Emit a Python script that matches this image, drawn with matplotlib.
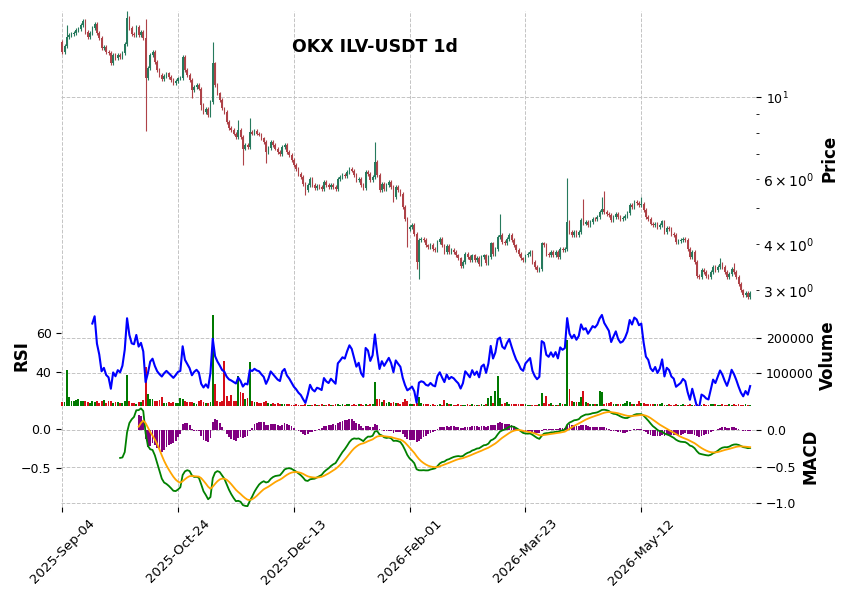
# OKX ILV-USDT 1d - candles, volume + RSI, MACD (estilo charles)

import numpy as np
import pandas as pd
import matplotlib
matplotlib.use('Agg')
import matplotlib.pyplot as plt
from matplotlib.ticker import MultipleLocator

start_date = '2025-09-04'
first_open = 14.12

close = [
    13.27, 13.77, 14.57, 14.72, 14.78, 14.87, 15.19, 15.29, 15.67, 16.07, 15.03, 14.57, 14.87, 15.35, 15.74, 14.87, 14.42, 13.55, 13.69, 13.27,
    13.13, 12.33, 12.99, 12.73, 12.99, 12.86, 13.13, 13.89, 16.33, 15.35, 14.78, 14.72, 15.51, 14.72, 15.03, 14.42, 11.23, 11.96, 12.99, 13.27,
    12.46, 11.83, 11.47, 11.18, 11.42, 11.59, 11.35, 11.11, 10.89, 11.05, 11.23, 11.28, 12.86, 11.83, 11.47, 11.11, 10.45, 10.66, 10.78, 10.55,
    9.51, 9.12, 9.28, 8.94, 9.71, 12.33, 10.78, 10.23, 9.81, 9.32, 9.12, 8.57, 8.26, 8.13, 7.97, 7.81, 8.13, 7.81, 7.26, 7.41,
    7.33, 8.05, 7.97, 8.08, 7.97, 7.92, 7.73, 7.57, 7.11, 7.29, 7.57, 7.41, 7.26, 7.11, 7.03, 7.33, 7.41, 7.11, 6.96, 6.75,
    6.54, 6.40, 6.21, 6.08, 5.83, 5.59, 5.77, 6.00, 5.77, 5.67, 5.75, 5.71, 5.65, 5.89, 5.77, 5.71, 5.79, 5.71, 5.63, 6.02,
    6.08, 6.15, 6.12, 6.27, 6.40, 6.33, 6.15, 5.95, 6.02, 5.77, 5.67, 6.27, 6.21, 5.95, 6.08, 6.68, 6.15, 5.59, 5.83, 5.65,
    5.77, 5.89, 5.71, 5.37, 5.71, 5.59, 5.48, 5.04, 4.69, 4.41, 4.45, 4.50, 4.27, 3.58, 4.10, 4.14, 4.10, 3.97, 3.93, 3.99,
    3.89, 3.85, 4.06, 4.14, 3.97, 3.81, 3.96, 3.81, 3.85, 3.81, 3.73, 3.66, 3.50, 3.58, 3.77, 3.70, 3.62, 3.73, 3.62, 3.67,
    3.54, 3.70, 3.73, 3.56, 3.70, 4.02, 3.77, 3.89, 4.19, 4.23, 4.06, 4.02, 4.14, 4.23, 4.10, 3.97, 3.85, 3.77, 3.66, 3.62,
    3.73, 3.77, 3.81, 3.58, 3.47, 3.40, 3.43, 4.02, 3.99, 3.77, 3.73, 3.81, 3.73, 3.81, 3.70, 3.89, 3.85, 3.88, 4.59, 4.32,
    4.23, 4.32, 4.23, 4.32, 4.64, 4.55, 4.59, 4.50, 4.59, 4.69, 4.67, 4.74, 4.89, 4.99, 4.89, 4.84, 4.79, 4.64, 4.74, 4.84,
    4.74, 4.69, 4.71, 4.77, 4.87, 5.10, 5.05, 5.20, 5.18, 5.12, 5.15, 4.94, 4.74, 4.69, 4.55, 4.50, 4.55, 4.45, 4.50, 4.61,
    4.32, 4.43, 4.39, 4.27, 4.23, 4.06, 4.08, 4.10, 4.14, 4.10, 3.89, 3.70, 3.81, 3.58, 3.29, 3.26, 3.40, 3.36, 3.29, 3.26,
    3.36, 3.47, 3.40, 3.47, 3.54, 3.47, 3.36, 3.26, 3.33, 3.43, 3.36, 3.26, 3.13, 3.00, 2.91, 2.96, 2.88, 2.96,
]

# volume em milhares
vol_k = [
    17, 15, 108, 31, 18, 20, 22, 26, 20, 20, 18, 16, 14, 18, 15, 20, 14, 18, 22, 14,
    18, 20, 13, 15, 17, 13, 14, 18, 93, 20, 14, 14, 12, 15, 17, 22, 117, 39, 24, 24,
    20, 18, 22, 31, 14, 13, 17, 14, 15, 13, 14, 29, 25, 20, 17, 16, 16, 13, 12, 18,
    22, 17, 13, 14, 16, 265, 68, 18, 17, 19, 133, 34, 20, 36, 20, 18, 91, 46, 43, 25,
    27, 131, 18, 16, 15, 14, 14, 15, 20, 13, 12, 14, 12, 13, 11, 12, 10, 10, 10, 9,
    9, 10, 9, 8, 9, 10, 9, 8, 9, 10, 9, 9, 10, 9, 8, 10, 9, 9, 10, 11,
    9, 10, 9, 11, 10, 9, 10, 9, 11, 10, 9, 10, 9, 11, 10, 73, 24, 25, 16, 22,
    14, 15, 13, 16, 14, 13, 12, 16, 24, 18, 12, 11, 12, 14, 30, 14, 12, 11, 10, 9,
    10, 9, 9, 10, 9, 22, 14, 11, 10, 9, 9, 10, 9, 9, 9, 10, 9, 11, 9, 9,
    9, 10, 9, 10, 27, 33, 14, 48, 91, 28, 12, 14, 17, 12, 11, 11, 11, 11, 10, 10,
    10, 9, 9, 9, 9, 9, 12, 42, 14, 34, 12, 14, 9, 9, 9, 13, 10, 12, 193, 53,
    19, 15, 16, 16, 31, 48, 17, 13, 11, 11, 10, 12, 48, 45, 12, 14, 13, 17, 12, 11,
    11, 12, 10, 14, 20, 15, 12, 11, 10, 20, 14, 13, 12, 11, 10, 10, 10, 10, 10, 14,
    9, 9, 10, 9, 9, 10, 9, 9, 10, 9, 9, 10, 9, 9, 10, 9, 9, 10, 9, 9,
    10, 12, 12, 9, 9, 10, 9, 9, 12, 9, 10, 9, 12, 9, 9, 10, 9, 9,
]

# pavios (% acima/abaixo do corpo); o resto usa o pavio típico
typical_wick = 1.2
up_wick = {2: 7.5, 28: 4.7, 36: 13, 65: 14.5, 76: 6.5, 81: 9, 135: 13, 189: 14,
           218: 32, 225: 14.5, 233: 7.5, 234: 12, 250: 4, 284: 3.5, 290: 4}
dn_wick = {36: 28, 56: 5, 60: 3, 78: 10, 88: 6.5, 105: 3, 143: 3, 149: 11,
           153: 4, 154: 10}

n = len(close)
dates = pd.date_range(start_date, periods=n, freq='D')
x = np.arange(n)
c = np.array(close)
o = np.r_[first_open, c[:-1]]
top = np.maximum(o, c)
bot = np.minimum(o, c)
hi = top * (1 + np.array([up_wick.get(i, typical_wick) for i in range(n)]) / 100)
lo = bot * (1 - np.array([dn_wick.get(i, typical_wick) for i in range(n)]) / 100)
vol = np.array(vol_k) * 1000

# indicadores (RSI de Wilder, MACD 12/26/9)
s = pd.Series(c)
d = s.diff()
gain = d.where(d > 0, 0.0).ewm(alpha=1 / 14, adjust=False, min_periods=14).mean()
loss = (-d).where(d < 0, 0.0).ewm(alpha=1 / 14, adjust=False, min_periods=14).mean()
rsi = 100 - 100 / (1 + gain / loss)

ema12 = s.ewm(span=12, adjust=False).mean()
ema26 = s.ewm(span=26, adjust=False, min_periods=26).mean()
macd = ema12 - ema26
signal = macd.ewm(span=9, adjust=False, min_periods=9).mean()
hist = macd - signal

up = c >= o
candle_col = np.where(up, '#267a5d', '#ae4248')
vol_col = np.where(up, '#007a00', '#d50d18')

grid_kw = dict(ls='--', color='#c4c4c4', lw=0.7)
tick_fs = 9
label_kw = dict(fontsize=12, fontweight='bold')

fig = plt.figure(figsize=(8.51, 6.0), dpi=100)
left, width = 0.0720, 0.8163
ax_p = fig.add_axes([left, 0.4917, width, 0.4900])
ax_v = fig.add_axes([left, 0.3233, width, 0.1683], sharex=ax_p)
ax_m = fig.add_axes([left, 0.1550, width, 0.1683], sharex=ax_p)
ax_r = ax_v.twinx()
ax_s = ax_m.twinx()

# preço
ax_p.set_yscale('log')
ax_p.vlines(x, lo, hi, colors=candle_col, lw=0.8)
ax_p.bar(x, top - bot, bottom=bot, width=0.7, color=candle_col, lw=0)
ax_p.set_ylim(2.74, 17.1)

# volume + RSI
ax_v.bar(x, vol, width=0.8, color=vol_col, lw=0)
ax_v.set_ylim(4860, 293400)
ax_v.yaxis.set_major_locator(MultipleLocator(100000))
ax_r.plot(x, rsi, color='blue', lw=1.5)
ax_r.set_ylim(22.7, 74.5)
ax_r.yaxis.set_major_locator(MultipleLocator(20))

# MACD
ax_m.bar(x, hist, width=0.8, color='purple', lw=0)
ax_m.set_ylim(-1.055, 0.329)
ax_m.yaxis.set_major_locator(MultipleLocator(0.5))
ax_s.plot(x, macd, color='green', lw=1.3)
ax_s.plot(x, signal, color='orange', lw=1.3)
ax_s.set_ylim(-0.996, 0.299)
ax_s.yaxis.set_major_locator(MultipleLocator(0.5))

ax_p.set_xlim(-0.4, 299.5)

for ax in (ax_p, ax_v, ax_m, ax_r, ax_s):
    for sp in ax.spines.values():
        sp.set_visible(False)
    ax.tick_params(labelsize=tick_fs)

for ax in (ax_p, ax_v, ax_m):
    ax.yaxis.tick_right()
    ax.yaxis.set_label_position('right')
    ax.grid(True, **grid_kw)
    ax.set_axisbelow(True)

for ax in (ax_r, ax_s):
    ax.yaxis.tick_left()
    ax.yaxis.set_label_position('left')

ax_p.tick_params(axis='x', bottom=False, labelbottom=False)
ax_v.tick_params(axis='x', bottom=False, labelbottom=False)

ticks = list(range(0, n, 50))
ax_m.set_xticks(ticks)
ax_m.set_xticklabels([dates[i].strftime('%Y-%b-%d') for i in ticks],
                     rotation=45, ha='center', fontsize=tick_fs + 0.5)

ax_p.set_ylabel('Price', **label_kw)
ax_v.set_ylabel('Volume', **label_kw)
ax_r.set_ylabel('RSI', **label_kw)
ax_m.set_ylabel('MACD', **label_kw)

fig.text(0.4407, 1 - 47 / 600, 'OKX ILV-USDT 1d', ha='center', va='center',
         fontsize=12.5, fontweight='bold')

fig.savefig('out.png', dpi=100)
